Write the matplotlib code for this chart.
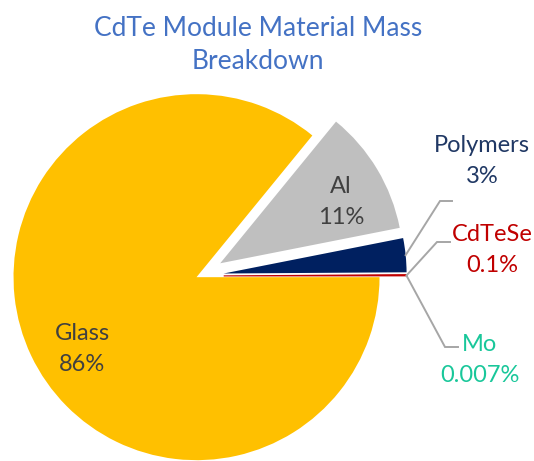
import numpy as np
import matplotlib.pyplot as plt

plt.rcParams['font.family'] = ['Lato', 'DejaVu Sans']

# data, in drawing order (counter-clockwise from 3 o'clock)
materials = ['Mo', 'CdTeSe', 'Polymers', 'Al', 'Glass']
shares = [0.007, 0.1, 3, 11, 86]
share_labels = ['0.007%', '0.1%', '3%', '11%', '86%']
wedge_colors = ['#1CC99B', '#C00000', '#002060', '#BFBFBF', '#FFC000']
text_colors = ['#19C79A', '#C00000', '#203864', '#404040', '#404040']

W, H = 534, 461
fig = plt.figure(figsize=(W / 100, H / 100), dpi=100)
ax = fig.add_axes([0, 0, 1, 1])

cx, cy, R = 199, H - 276, 183
# explode is in data units in matplotlib, so scale by the radius
explode = [f * R for f in (0.135, 0.135, 0.135, 0.135, 0.015)]
wedges, _ = ax.pie(shares, colors=wedge_colors, startangle=0, counterclock=True,
                   explode=explode, center=(cx, cy), radius=R, normalize=True,
                   wedgeprops=dict(linewidth=0))
wedges[1].set_edgecolor('#C00000')
wedges[1].set_linewidth(0.8)

# pie() resets limits, so set pixel-like limits afterwards
ax.set_xlim(0, W)
ax.set_ylim(0, H)
ax.set_aspect('equal')
ax.axis('off')

ax.text(258, H - 45, 'CdTe Module Material Mass\nBreakdown', ha='center', va='center',
        fontsize=19, color='#4472C4', linespacing=1.42)

# labels inside the big slices
inside = {'Al': (341, 202), 'Glass': (82, 349)}
# outside labels with elbow leader lines: text pos, elbow, end
outside = {
    'Polymers': ((482, 161), (440, 201), (452, 201)),
    'CdTeSe': ((492, 250), (437, 242), (450, 242)),
    'Mo': ((480, 360), (445, 347), (458, 347)),
}

for i, name in enumerate(materials):
    txt = f'{name}\n{share_labels[i]}'
    if name in inside:
        x, y = inside[name]
        ax.text(x, H - y, txt, ha='center', va='center', fontsize=17,
                color=text_colors[i], linespacing=1.6)
    else:
        (tx, ty), (ex, ey), (fx, fy) = outside[name]
        w = wedges[i]
        mid = np.deg2rad((w.theta1 + w.theta2) / 2)
        sx = w.center[0] + w.r * np.cos(mid)
        sy = w.center[1] + w.r * np.sin(mid)
        ax.plot([sx, ex, fx], [sy, H - ey, H - fy], color='#A6A6A6', lw=1.4,
                solid_joinstyle='miter')
        ax.text(tx, H - ty, txt, ha='center', va='center', fontsize=17,
                color=text_colors[i], linespacing=1.6)

fig.savefig('out.png', dpi=100)
